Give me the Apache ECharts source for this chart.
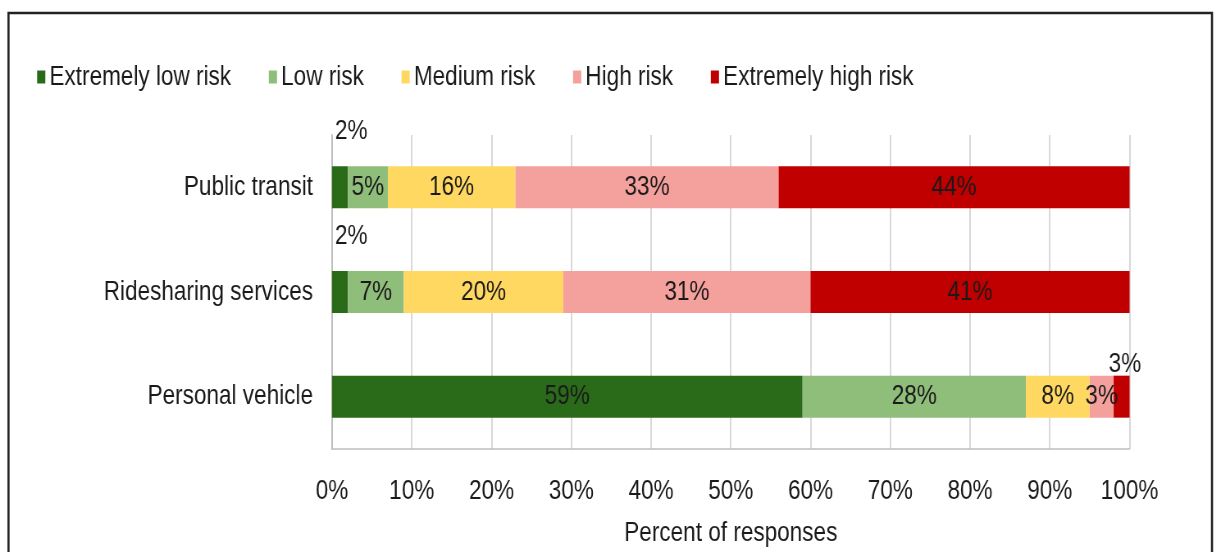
<!DOCTYPE html>
<html>
<head>
<meta charset="utf-8">
<title>Perceived risk by mode of travel</title>
<script src="https://cdn.jsdelivr.net/npm/echarts@6/dist/echarts.min.js"></script>
<style>
  html, body { margin: 0; padding: 0; background: #ffffff; overflow: hidden; }
  #wrap { width: 1216px; height: 552px; overflow: hidden; }
  #chart { height: 552px; transform-origin: 0 0; }
</style>
</head>
<body>
<div id="wrap"><div id="chart"></div></div>
<script>
// Modes of travel (top to bottom)
const categories = ['Public transit', 'Ridesharing services', 'Personal vehicle'];

// Risk levels, in stacking order
const riskLevels = ['Extremely low risk', 'Low risk', 'Medium risk', 'High risk', 'Extremely high risk'];

// Percent of responses per mode, one array per risk level
const extremelyLow = [2, 2, 59];
const low = [5, 7, 28];
const medium = [16, 20, 8];
const high = [33, 31, 3];
const extremelyHigh = [44, 41, 3];

// Axis ticks
const xTicks = [0, 10, 20, 30, 40, 50, 60, 70, 80, 90, 100];

const seriesValues = [extremelyLow, low, medium, high, extremelyHigh];
const colors = ['#2a6b1a', '#8fbd7a', '#ffd862', '#f4a09c', '#c00000'];

// The chart is laid out on a wider canvas and squeezed horizontally,
// which gives the narrow lettering of the original report figure.
const SX = 0.82;
const W = 1216 / SX;
const px = v => v / SX;   // screen x -> canvas x

const el = document.getElementById('chart');
el.style.width = W + 'px';
el.style.transform = 'scaleX(' + SX + ')';

const FONT = "'Liberation Sans', Arial, sans-serif";
const TEXT = '#1a1a1a';
const FS = 27.5;

const chart = echarts.init(el, null, { renderer: 'canvas' });

// Narrow segments carry their label above the bar instead of inside it
function labelFor(seriesIndex, value) {
  if (seriesIndex === 0 && value <= 2) {
    return { position: [px(3), -35], align: 'left', verticalAlign: 'middle' };
  }
  if (seriesIndex === seriesValues.length - 1 && value <= 3) {
    return { position: [px(-5), -11], align: 'left', verticalAlign: 'middle' };
  }
  return null;
}

const series = riskLevels.map((name, si) => ({
  name: name,
  type: 'bar',
  stack: 'total',
  barWidth: 42,
  itemStyle: { color: colors[si] },
  label: {
    show: true,
    position: 'inside',
    formatter: '{c}%',
    fontFamily: FONT,
    fontSize: FS,
    color: TEXT
  },
  data: seriesValues[si].map(v => {
    const l = labelFor(si, v);
    return l ? { value: v, label: l } : v;
  })
}));

chart.setOption({
  animation: false,
  textStyle: { fontFamily: FONT },
  graphic: [{
    type: 'rect',
    shape: { x: px(8.5), y: 13, width: px(1203.5), height: 600 },
    style: { fill: 'none', stroke: '#222222', lineWidth: 2.6 },
    silent: true
  }],
  legend: {
    data: riskLevels,
    left: px(33),
    top: 58,
    icon: 'rect',
    itemWidth: 10,
    itemHeight: 13,
    itemGap: 46,
    textStyle: { fontFamily: FONT, fontSize: FS, color: TEXT }
  },
  grid: { left: px(332), right: px(1216 - 1129.5), top: 135, bottom: 102, containLabel: false },
  xAxis: {
    type: 'value',
    min: xTicks[0],
    max: xTicks[xTicks.length - 1],
    interval: xTicks[1] - xTicks[0],
    name: 'Percent of responses',
    nameLocation: 'middle',
    nameGap: 70,
    nameTextStyle: { fontFamily: FONT, fontSize: FS, color: TEXT },
    axisLine: { show: true, lineStyle: { color: '#bfbfbf', width: 1.5 } },
    axisTick: { show: false },
    splitLine: { show: true, lineStyle: { color: '#d9d9d9', width: 2 } },
    axisLabel: { formatter: '{value}%', fontFamily: FONT, fontSize: FS, color: TEXT, margin: 28 }
  },
  yAxis: {
    type: 'category',
    inverse: true,
    data: categories,
    axisLine: { show: true, lineStyle: { color: '#bfbfbf', width: 2 } },
    axisTick: { show: false },
    axisLabel: { fontFamily: FONT, fontSize: FS, color: TEXT, margin: px(19) }
  },
  series: series
});
</script>
</body>
</html>
